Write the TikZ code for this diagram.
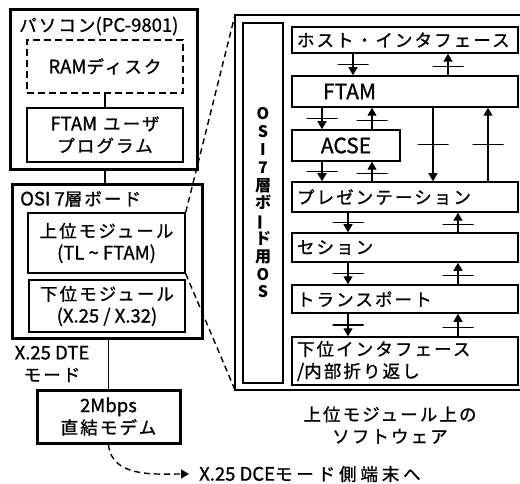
\documentclass[tikz,border=0pt]{standalone}
\usepackage{fontspec}
\usepackage{graphicx}
\setmainfont{Noto Sans CJK JP}
\newfontfamily\jp[LetterSpace=12, FakeBold=1]{Noto Sans CJK JP}
\newfontfamily\jpw[LetterSpace=22, FakeBold=1]{Noto Sans CJK JP}
\newfontfamily\lafont[FakeBold=1]{Noto Sans CJK JP}
\newfontfamily\vfont{Noto Sans CJK JP}
\newcommand\la{\lafont\fontsize{18.5}{22}\selectfont}
\newcommand\LA{\lafont\fontsize{21}{22}\selectfont}
\usetikzlibrary{arrows.meta}
\tikzset{
  every node/.style={font=\jp\fontsize{17.5}{22}\selectfont, inner sep=0pt},
  box/.style={draw, line width=1.5pt, align=center},
  tbox/.style={draw, line width=3pt},
  layer/.style={box, text width=216pt, align=left, inner xsep=5pt},
  arr/.style={line width=1.4pt, -{Triangle[width=9pt,length=8pt]}},
  bar/.style={draw, line width=1.4pt, minimum width=31pt, minimum height=0pt, inner sep=0pt},
  conn/.style={line width=1.5pt},
  zoomline/.style={line width=1.4pt, dash pattern=on 6pt off 4pt},
}
\begin{document}
\begin{tikzpicture}[x=1pt, y=-1pt]
\useasboundingbox[fill=white] (0,0) rectangle (520,484);
% left side
\node[tbox, minimum width=187pt, minimum height=160pt] (pc) at (103.5,90) {};
\node[anchor=west] (pctitle) at (19,26) {パソコン{\la(PC-9801)}};
\node[box, dash pattern=on 7pt off 4pt, minimum width=156pt, minimum height=53pt] (ram) at (105,66.5) {{\la RAM}ディスク};
\node[box, minimum width=156pt, minimum height=54pt] (ftamu) at (105,135) {{\la FTAM} ユーザ\\プログラム};
\node[tbox, minimum width=190pt, minimum height=153pt] (osi) at (107,261.5) {};
\node[anchor=west] (ositl) at (20,199) {{\la OSI 7}層ボード};
\node[box, minimum width=157pt, minimum height=60pt] (upper) at (106.5,243) {上位モジュール\\{\la (TL \textasciitilde{} FTAM)}};
\node[box, minimum width=156pt, minimum height=52pt] (lower) at (107,306) {下位モジュール\\{\la (X.25 / X.32)}};
\node[align=center] (dte) at (52,364) {{\la X.25 DTE}\\モード};
\node[tbox, align=center, minimum width=143pt, minimum height=53pt] (modem) at (108.5,416.5) {{\la 2Mbps}\\直結モデム};
\node[anchor=west, inner xsep=10pt] (dce) at (189,474) {{\la X.25 DCE}{\jpw\fontsize{17.5}{22}\selectfont モード側端末へ}};
\draw[conn] (ram.south) -- (ftamu.north);
\draw[conn] (ram.south |- pc.south) -- (ram.south |- osi.north);
\draw[conn] (modem.north |- osi.south) -- (modem.north);
\draw[zoomline, -{Triangle[width=9pt,length=8pt]}] (modem.south) to[out=-85, in=180] (dce.west);
% right side
\coordinate (rtl) at (235,15);
\coordinate (rbl) at (235,390);
\coordinate (rtr) at (520,15);
\coordinate (rbr) at (520,390);
\draw[conn] (rtr) -- (rtl) -- (rbl) -- (rbr);
\draw[zoomline] (upper.north east) -- (rtl);
\draw[zoomline] (upper.south east) -- (rbl);
\node[box, minimum width=40pt, minimum height=360pt, font=\vfont\bfseries\fontsize{16}{17.8}\selectfont] (osbox) at (263,203) {O\\S\\I\\7\\層\\ボ\\\rotatebox[origin=c]{90}{ー}\\ド\\用\\O\\S};
\node[layer, minimum height=26pt] (host) at (405,40) {ホスト・インタフェース};
\node[layer, minimum height=31pt] (ftam) at (405,91.5) {\hspace*{26pt}{\LA FTAM}};
\node[box, minimum width=108pt, minimum height=31pt] (acse) at (346,145.5) {{\LA ACSE}};
\node[layer, minimum height=30pt] (pres) at (405,197) {プレゼンテーション};
\node[layer, minimum height=29pt] (sess) at (405,247.5) {セション};
\node[layer, minimum height=28pt] (trans) at (405,299) {トランスポート};
\node[layer, minimum height=48pt] (lowif) at (405,361) {下位インタフェース\\{\la/}内部折り返し};
\node[align=center] (sw) at (390,425) {上位モジュール上の\\ソフトウェア};
% arrow columns
\coordinate (dA) at (353,0);
\coordinate (uA) at (448,0);
\coordinate (dB) at (322,0);
\coordinate (uB) at (372,0);
\coordinate (dL) at (433,0);
\coordinate (uL) at (488,0);
\coordinate (dC) at (348,0);
\coordinate (uC) at (458,0);
\draw[arr] (host.south -| dA) -- node[bar, pos=0.5]{} (ftam.north -| dA);
\draw[arr] (ftam.north -| uA) -- node[bar, pos=0.4]{} (host.south -| uA);
\draw[arr] (ftam.south -| dB) -- node[bar, pos=0.5]{} (acse.north -| dB);
\draw[arr] (acse.north -| uB) -- node[bar, pos=0.4]{} (ftam.south -| uB);
\draw[arr] (acse.south -| dB) -- node[bar, pos=0.5]{} (pres.north -| dB);
\draw[arr] (pres.north -| uB) -- node[bar, pos=0.4]{} (acse.south -| uB);
\draw[arr] (ftam.south -| dL) -- node[bar, pos=0.5]{} (pres.north -| dL);
\draw[arr] (pres.north -| uL) -- node[bar, pos=0.5]{} (ftam.south -| uL);
\draw[arr] (pres.south -| dC) -- node[bar, pos=0.5]{} (sess.north -| dC);
\draw[arr] (sess.north -| uC) -- node[bar, pos=0.4]{} (pres.south -| uC);
\draw[arr] (sess.south -| dC) -- node[bar, pos=0.5]{} (trans.north -| dC);
\draw[arr] (trans.north -| uC) -- node[bar, pos=0.4]{} (sess.south -| uC);
\draw[arr] (trans.south -| dC) -- node[bar, pos=0.5]{} (lowif.north -| dC);
\draw[arr] (lowif.north -| uC) -- node[bar, pos=0.4]{} (trans.south -| uC);
\end{tikzpicture}
\end{document}
